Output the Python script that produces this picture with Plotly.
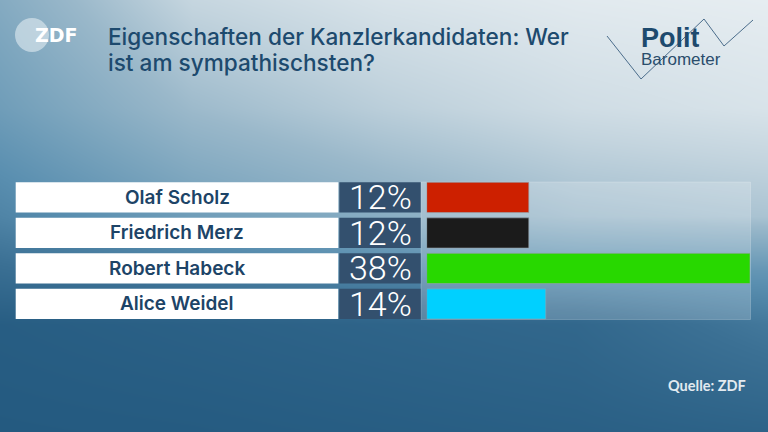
import plotly.graph_objects as go

W, H = 768, 432

# ---- data ----
candidates = ["Olaf Scholz", "Friedrich Merz", "Robert Habeck", "Alice Weidel"]
values = [12, 12, 38, 14]
bar_colors = ["#cd2000", "#1b1b1b", "#28d800", "#00d0ff"]
title_lines = ["Eigenschaften der Kanzlerkandidaten: Wer", "ist am sympathischsten?"]
source_text = "Quelle: ZDF"


def px(x):
    return x / W


def py(y):
    return 1 - y / H


# ---- background gradient (decorative) ----
gx = [0, 0.25, 0.5, 0.75, 1]
gy = [py(432), py(324), py(270), py(216), py(108), py(0)]
gz = [
    [0.00, 0.01, 0.03, 0.05, 0.08],
    [0.03, 0.06, 0.09, 0.12, 0.25],
    [0.18, 0.28, 0.36, 0.42, 0.45],
    [0.33, 0.50, 0.62, 0.72, 0.76],
    [0.50, 0.71, 0.82, 0.90, 0.94],
    [0.60, 0.86, 0.94, 0.98, 1.00],
]
bg_scale = [[0, "#245a80"], [0.2, "#3b7094"], [0.4, "#5a8fb0"], [0.55, "#7aa4bd"],
            [0.7, "#9ab8ca"], [0.85, "#c3d4de"], [1, "#e6edf1"]]

fig = go.Figure()
fig.add_trace(go.Heatmap(x=gx, y=gy, z=gz, colorscale=bg_scale, zmin=0, zmax=1,
                         zsmooth="best", showscale=False, hoverinfo="skip",
                         xaxis="x", yaxis="y"))
# light panel behind bars
x0p, x1p, y0p, y1p = px(421), px(750.5), py(319.5), py(182)
fig.add_trace(go.Scatter(x=[x0p, x1p, x1p, x0p, x0p], y=[y0p, y0p, y1p, y1p, y0p],
                         fill="toself", fillcolor="rgba(255,255,255,0.2)",
                         line=dict(color="rgba(255,255,255,0.2)", width=1),
                         mode="lines", hoverinfo="skip", xaxis="x", yaxis="y"))

# ---- bars ----
fig.add_trace(go.Bar(y=candidates, x=values, orientation="h",
                     marker=dict(color=bar_colors, line=dict(color="rgba(150,160,170,0.6)", width=1)),
                     xaxis="x2", yaxis="y2", hoverinfo="skip"))

shapes = []
annotations = []
for i, (name, v) in enumerate(zip(candidates, values)):
    shapes.append(dict(type="rect", xref="paper", yref="y2", x0=px(15.7), x1=px(338.3),
                       y0=i - 0.427, y1=i + 0.427, fillcolor="white", line=dict(width=0)))
    shapes.append(dict(type="rect", xref="paper", yref="y2", x0=px(339.3), x1=px(420.7),
                       y0=i - 0.427, y1=i + 0.427, fillcolor="#33506e", line=dict(width=0)))
    annotations.append(dict(text=name, xref="paper", yref="y2", x=px(177), y=i,
                            showarrow=False, xanchor="center", yanchor="middle",
                            font=dict(family="Inter", size=19, color="#1d4467", weight=600)))
    annotations.append(dict(text=f"{v}%", xref="paper", yref="y2", x=px(380), y=i,
                            showarrow=False, xanchor="center", yanchor="middle",
                            height=30, valign="middle",
                            font=dict(family="Roboto", size=34, color="white", weight=300)))

# title (two lines)
for line, yy in zip(title_lines, [36, 62.5]):
    annotations.append(dict(text=line, xref="paper", yref="paper", x=px(106), y=py(yy),
                            xanchor="left", yanchor="middle", align="left", showarrow=False,
                            font=dict(family="Inter", size=22.6, color="#1d4a6e", weight=500)))
# ZDF logo
shapes.append(dict(type="circle", xref="paper", yref="paper", x0=px(15), x1=px(49),
                   y0=py(52), y1=py(18), fillcolor="rgba(235,242,246,0.55)", line=dict(width=0)))
annotations.append(dict(text="ZDF", xref="paper", yref="paper", x=px(56), y=py(35),
                        xanchor="center", yanchor="middle", showarrow=False,
                        font=dict(family="DejaVu Sans", size=19, color="white", weight="bold")))
# Politbarometer logo
annotations.append(dict(text="Polit", xref="paper", yref="paper", x=px(639), y=py(38.5),
                        xanchor="left", yanchor="middle", showarrow=False,
                        height=22, valign="middle",
                        font=dict(family="Liberation Sans", size=27, color="#1d4a6e", weight="bold")))
annotations.append(dict(text="Barometer", xref="paper", yref="paper", x=px(639), y=py(59),
                        xanchor="left", yanchor="middle", showarrow=False,
                        height=15, valign="middle",
                        font=dict(family="Liberation Sans", size=17, color="#2a4d6c")))
pts = [(607, 36), (641, 79), (704, 19), (724, 46), (753, 20)]
path = "M " + " L ".join(f"{px(a)},{py(b)}" for a, b in pts)
shapes.append(dict(type="path", xref="paper", yref="paper", path=path,
                   line=dict(color="#4b6d8b", width=1)))
# source
annotations.append(dict(text=source_text, xref="paper", yref="paper", x=px(748), y=py(385),
                        xanchor="right", yanchor="middle", showarrow=False,
                        font=dict(family="Lato", size=14.5, color="#e2eaf0", weight="bold")))

fig.update_layout(
    width=W, height=H, margin=dict(l=0, r=0, t=0, b=0),
    showlegend=False, paper_bgcolor="#245a80", plot_bgcolor="rgba(0,0,0,0)",
    xaxis=dict(domain=[0, 1], range=[0, 1], visible=False, fixedrange=True),
    yaxis=dict(domain=[0, 1], range=[0, 1], visible=False, fixedrange=True),
    xaxis2=dict(domain=[px(426.7), px(750)], range=[0, 38], visible=False, anchor="y2"),
    yaxis2=dict(domain=[py(321.7), py(179.7)], range=[3.5, -0.5], autorange=False,
                visible=False, anchor="x2", type="category",
                categoryorder="array", categoryarray=candidates),
    bargap=0.15,
    shapes=shapes, annotations=annotations,
)

fig.write_html("out.html", config={"displayModeBar": False},
               post_script="document.body.style.margin='0';document.body.style.overflow='hidden';")
